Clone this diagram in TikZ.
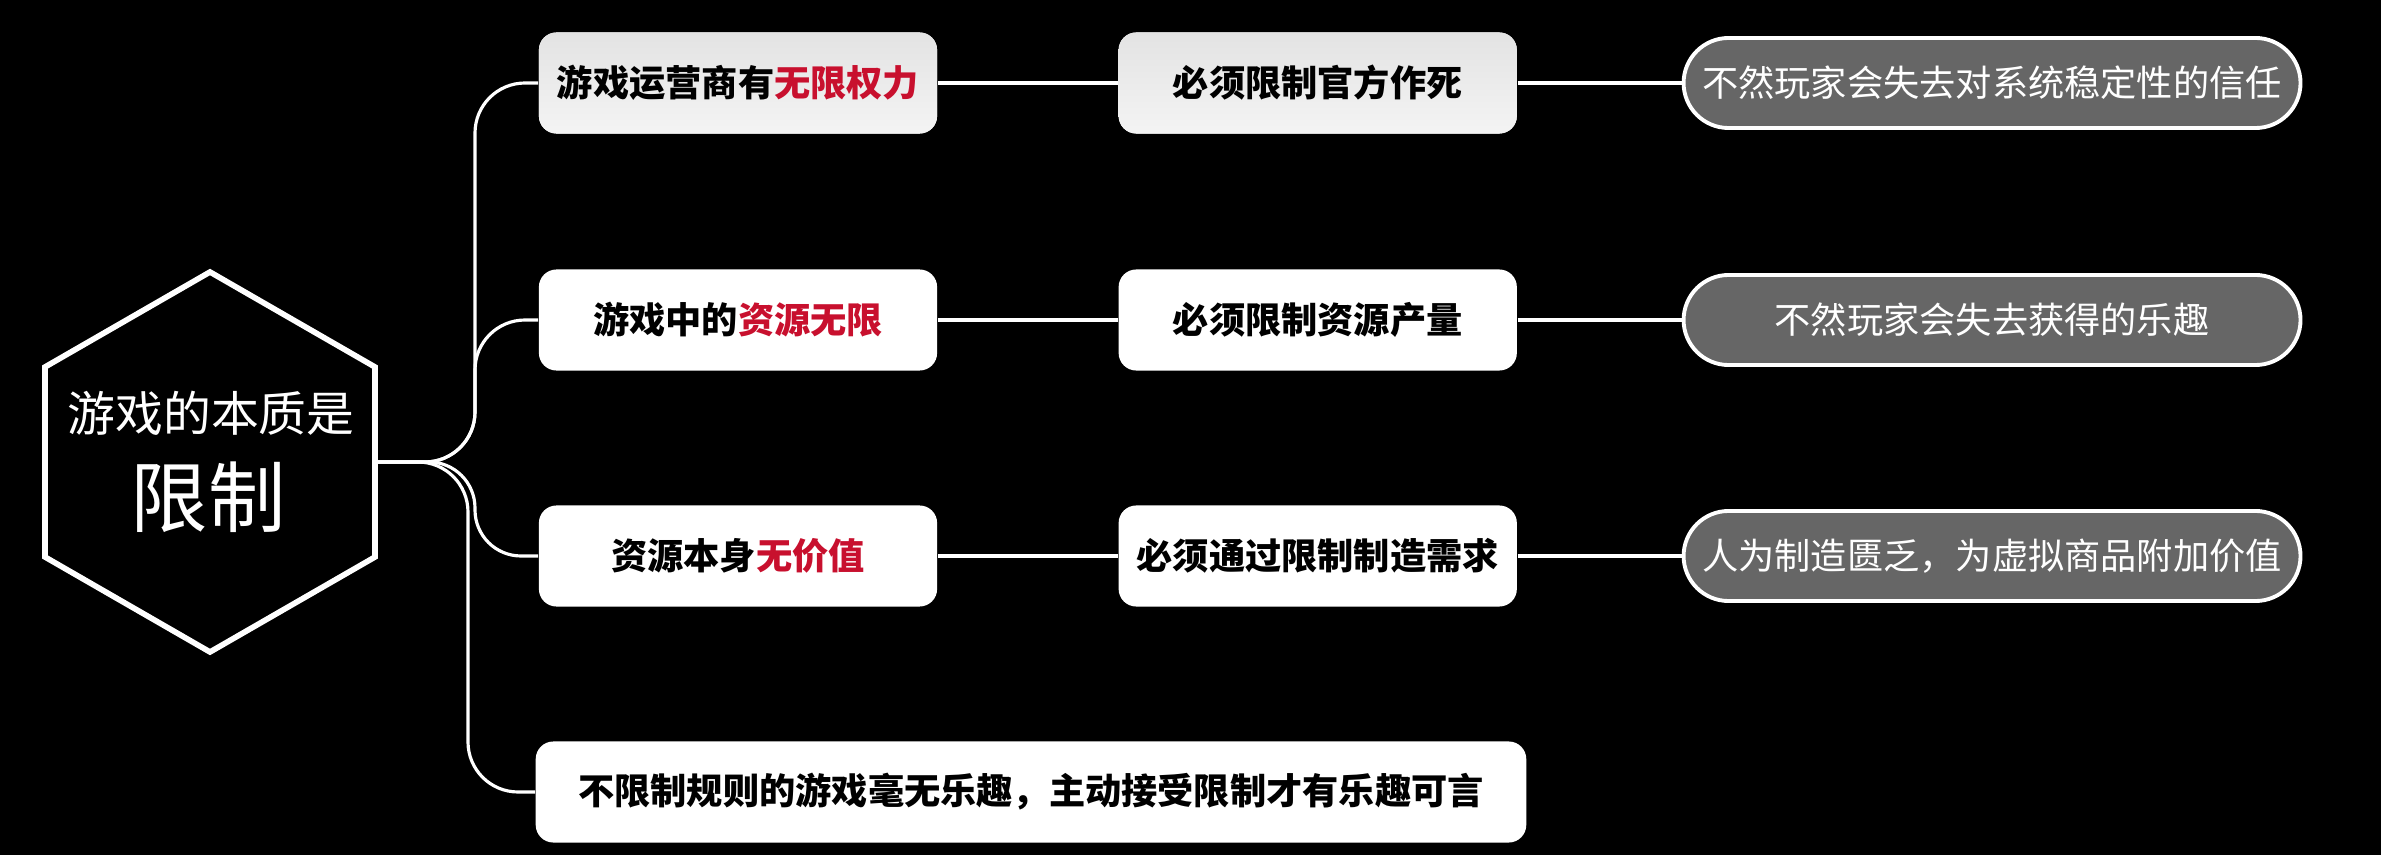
\documentclass[tikz,border=0pt]{standalone}
\usepackage{fontspec}
\setmainfont{Noto Sans CJK SC}
\usetikzlibrary{positioning,shapes.misc}
\definecolor{gred}{HTML}{C8102E}
\definecolor{gpill}{HTML}{666666}
\definecolor{gpale}{HTML}{E3E3E3}
\tikzset{
  card/.style={fill=white,rounded corners=5pt,minimum width=3.98cm,minimum height=1.01cm,font=\fontsize{10.3}{12}\selectfont\bfseries,text=black,inner sep=3pt},
  pale/.style={card,top color=gpale,bottom color=gpale!40!white},
  pill/.style={rounded rectangle,draw=white,line width=1.1pt,fill=gpill,text=white,minimum width=6.4cm,minimum height=0.9cm,font=\fontsize{10.3}{12}\selectfont},
  link/.style={draw=white,line width=0.9pt,rounded corners=0.5cm},
  hexa/.style={draw=white,line width=1.6pt,line join=miter},
}
\newcommand{\hl}[1]{\textcolor{gred}{#1}}

\begin{document}
\begin{tikzpicture}[x=0.01cm,y=-0.01cm]
  \fill[black] (0,0) rectangle (2381,855);
  \useasboundingbox (0,0) rectangle (2381,855);
  % hexagon
  \draw[hexa] (210,272) -- (375,367) -- (375,557) -- (210,652) -- (45,557) -- (45,367) -- cycle;
  \node[text=white,font=\fontsize{13.6}{15}\selectfont] (coretop) at (211,413) {游戏的本质是};
  \node[text=white,font=\fontsize{22}{24}\selectfont] (core) at (208,497) {限制};
  \coordinate (hexr) at (375,462);
  % first column
  \node[pale] (a1) at (738,83) {游戏运营商有\hl{无限权力}};
  \node[card] (a2) at (738,320) {游戏中的\hl{资源无限}};
  \node[card] (a3) at (738,556) {资源本身\hl{无价值}};
  \node[card,minimum width=9.9cm] (a4) at (1031,792) {不限制规则的游戏毫无乐趣，主动接受限制才有乐趣可言};
  % second column
  \node[pale,right=1.8cm of a1] (b1) {必须限制官方作死};
  \node[card,right=1.8cm of a2] (b2) {必须限制资源产量};
  \node[card,right=1.8cm of a3] (b3) {必须通过限制制造需求};
  % third column
  \node[pill,right=1.64cm of b1] (c1) {不然玩家会失去对系统稳定性的信任};
  \node[pill,right=1.64cm of b2] (c2) {不然玩家会失去获得的乐趣};
  \node[pill,right=1.64cm of b3] (c3) {人为制造匮乏，为虚拟商品附加价值};
  % branches
  \draw[link] (hexr) -- ++(100,0) |- (a1.west);
  \draw[link] (hexr) -- ++(100,0) |- (a2.west);
  \draw[link,rounded corners=0.46cm] (hexr) -- ++(100,0) |- (a3.west);
  \draw[link] (hexr) -- ++(93,0) |- (a4.west);
  \foreach \i in {1,2,3} {
    \draw[link] (a\i) -- (b\i);
    \draw[link] (b\i) -- (c\i);
  }
\end{tikzpicture}
\end{document}
